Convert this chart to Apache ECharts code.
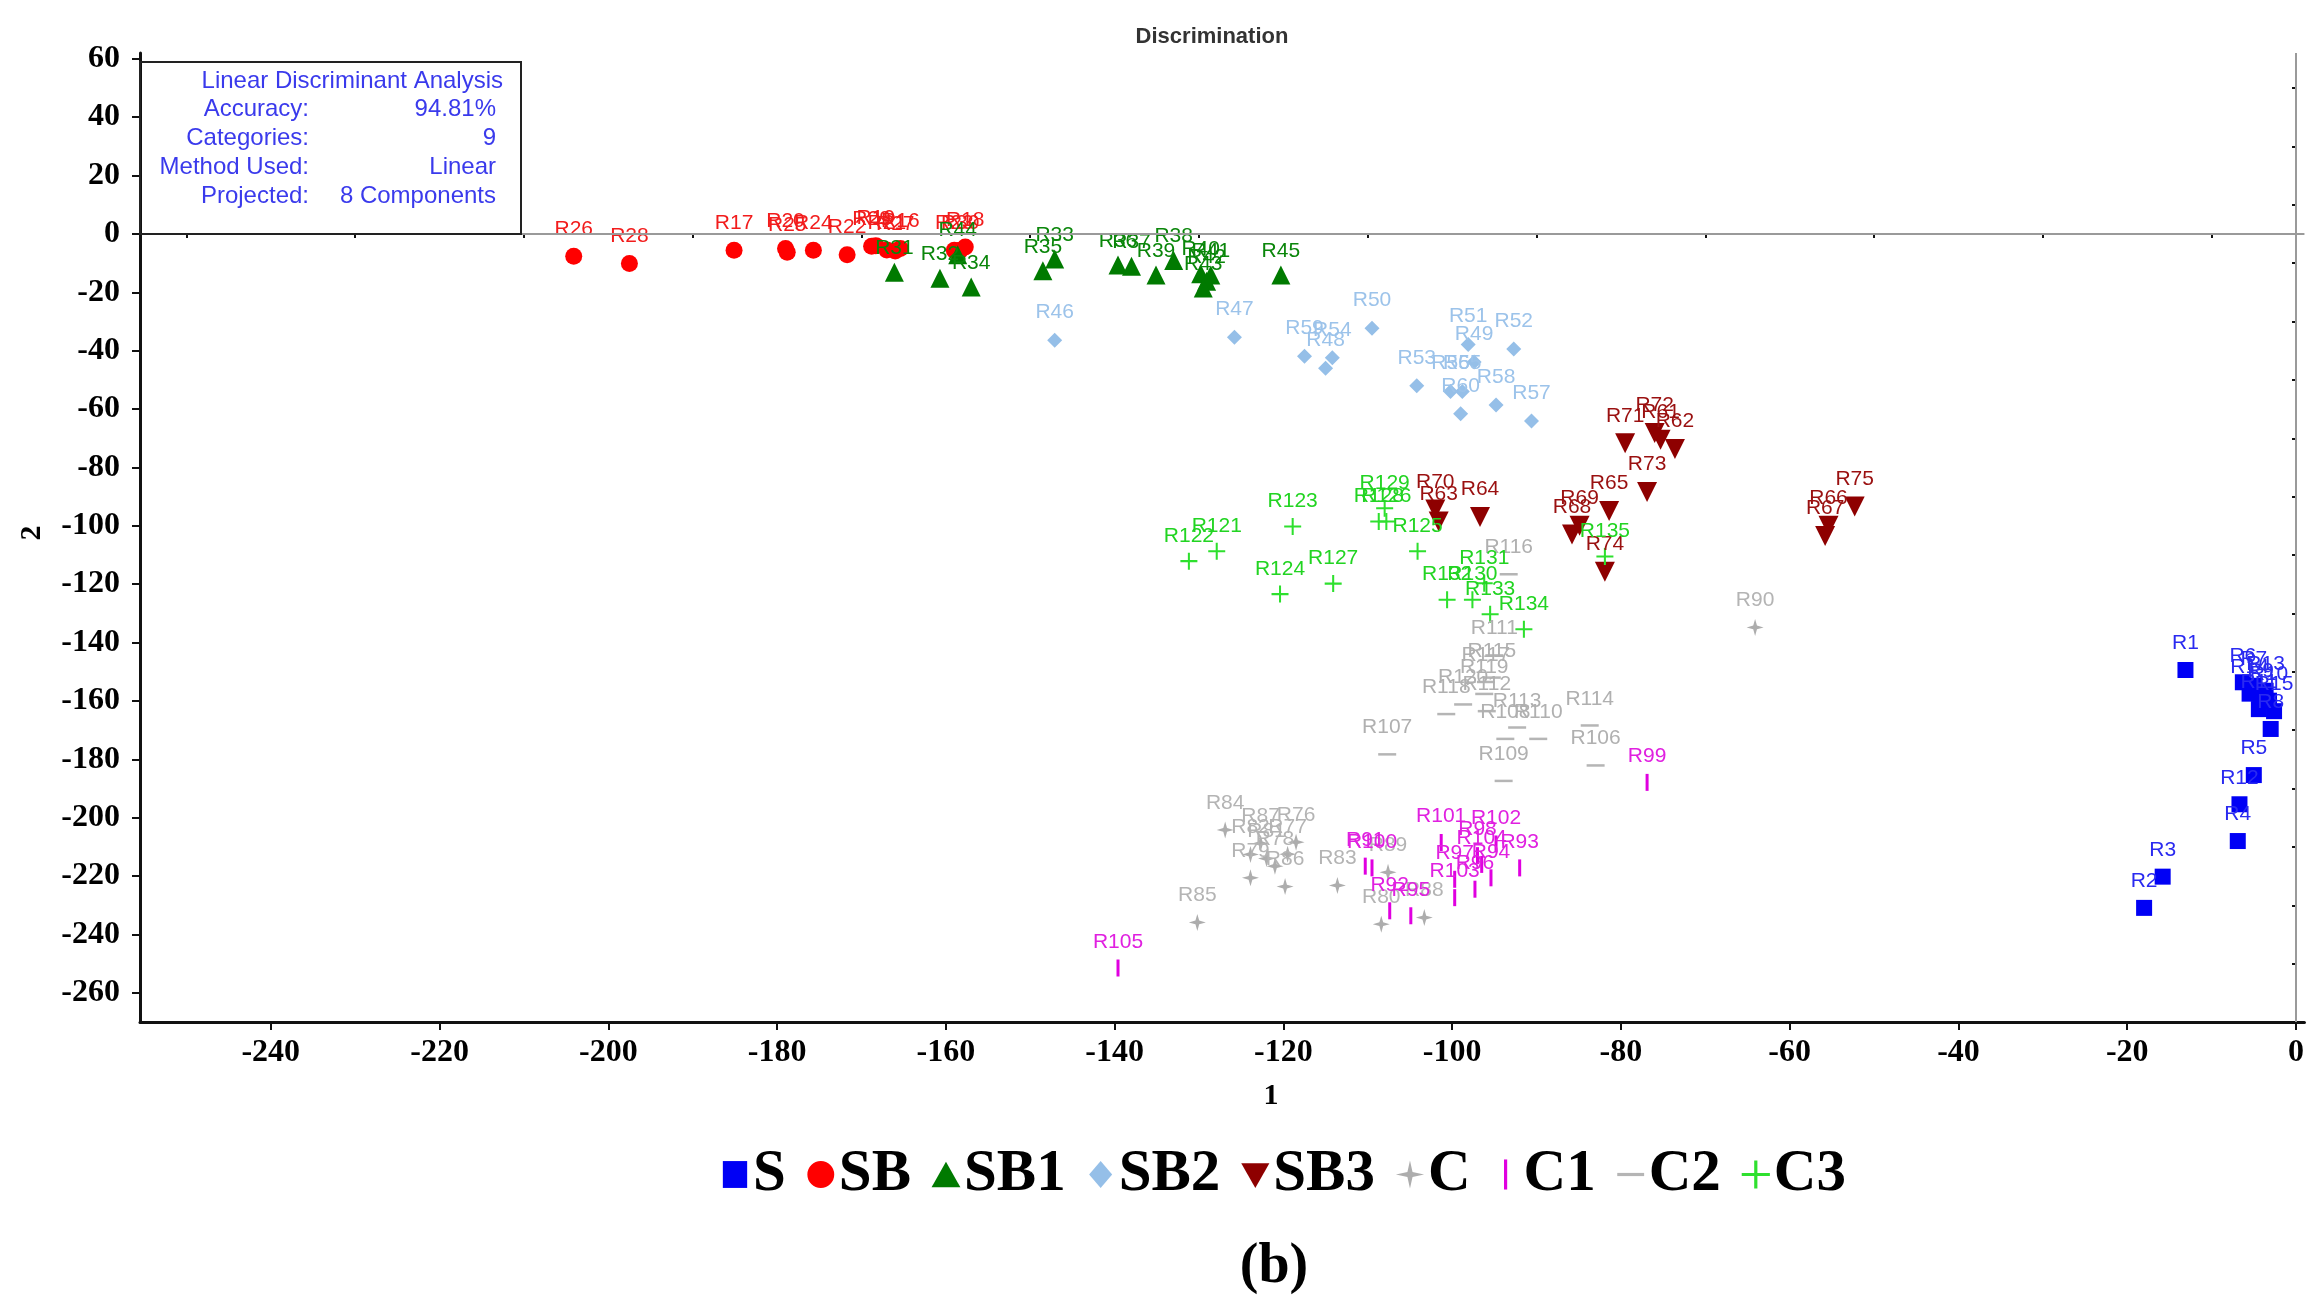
<!DOCTYPE html>
<html>
<head>
<meta charset="utf-8">
<script src="https://cdn.jsdelivr.net/npm/echarts@6/dist/echarts.min.js"></script>
<style>
  html, body { margin: 0; padding: 0; background: #fff; }
  #main { width: 2307px; height: 1295px; }
</style>
</head>
<body>
<div id="main"></div>
<script>
// ---- LDA scores (function 1, function 2) per sample group ----
const sNames = ['R1','R2','R3','R4','R5','R6','R7','R8','R9','R10','R11','R12','R13','R14','R15'];
const sPts = [[-13.1,-149.4],[-18.0,-230.9],[-15.8,-220.2],[-6.9,-208.0],[-5.0,-185.4],[-6.3,-153.6],[-5.0,-154.8],[-3.0,-169.6],[-4.2,-158.8],[-3.2,-159.9],[-4.4,-162.8],[-6.7,-195.4],[-3.6,-156.5],[-5.5,-157.5],[-2.6,-163.5]];

const sbNames = ['R16','R17','R18','R19','R20','R21','R22','R23','R24','R25','R26','R27','R28','R29','R30'];
const sbPts = [[-165.4,-5.0],[-185.1,-5.6],[-157.7,-4.5],[-168.3,-4.0],[-179.0,-5.0],[-167.0,-5.5],[-171.7,-7.1],[-159.0,-5.6],[-175.7,-5.6],[-178.8,-6.3],[-204.1,-7.6],[-166.0,-5.8],[-197.5,-10.1],[-168.8,-4.2],[-158.3,-5.6]];

const sb1Names = ['R31','R32','R33','R34','R35','R36','R37','R38','R39','R40','R41','R42','R43','R44','R45'];
const sb1Pts = [[-166.1,-13.1],[-160.7,-15.2],[-147.1,-8.6],[-157.0,-18.2],[-148.5,-12.6],[-139.6,-10.6],[-138.0,-11.1],[-133.0,-9.1],[-135.1,-14.1],[-129.8,-13.6],[-128.6,-14.1],[-129.1,-16.2],[-129.5,-18.5],[-158.6,-7.1],[-120.3,-14.1]];

const sb2Names = ['R46','R47','R48','R49','R50','R51','R52','R53','R54','R55','R56','R57','R58','R59','R60'];
const sb2Pts = [[-147.1,-36.4],[-125.8,-35.4],[-115.0,-46.0],[-97.4,-43.9],[-109.5,-32.3],[-98.1,-37.9],[-92.7,-39.4],[-104.2,-52.0],[-114.2,-42.4],[-98.8,-54.0],[-100.2,-54.0],[-90.6,-64.1],[-94.8,-58.6],[-117.5,-41.9],[-99.0,-61.6]];

const sb3Names = ['R61','R62','R63','R64','R65','R66','R67','R68','R69','R70','R71','R72','R73','R74','R75'];
const sb3Pts = [[-75.3,-70.5],[-73.6,-73.7],[-101.6,-98.5],[-96.7,-97.0],[-81.4,-94.9],[-55.4,-100.0],[-55.8,-103.5],[-85.8,-103.0],[-84.9,-100.0],[-102.0,-94.4],[-79.5,-71.7],[-76.0,-68.2],[-76.9,-88.4],[-81.9,-115.7],[-52.3,-93.4]];

const cNames = ['R76','R77','R78','R79','R80','R81','R82','R83','R84','R85','R86','R87','R88','R89','R90'];
const cPts = [[-118.5,-208.4],[-119.5,-212.5],[-121.0,-216.6],[-123.9,-220.6],[-108.4,-236.5],[-122.0,-214.0],[-123.9,-212.6],[-113.6,-223.2],[-126.9,-204.2],[-130.2,-235.9],[-119.8,-223.6],[-122.7,-208.8],[-103.3,-234.2],[-107.6,-218.7],[-64.1,-134.8]];

const c1Names = ['R91','R92','R93','R94','R95','R96','R97','R98','R99','R100','R101','R102','R103','R104','R105'];
const c1Pts = [[-110.3,-216.6],[-107.4,-231.9],[-92.0,-217.2],[-95.4,-220.6],[-104.9,-233.6],[-97.3,-224.5],[-99.7,-221.1],[-97.0,-213.0],[-76.9,-187.9],[-109.5,-217.2],[-101.3,-208.5],[-94.8,-209.0],[-99.7,-227.4],[-96.5,-216.0],[-139.6,-251.5]];

const c2Names = ['R106','R107','R108','R109','R110','R111','R112','R113','R114','R115','R116','R117','R118','R119','R120'];
const c2Pts = [[-83.0,-182.1],[-107.7,-178.3],[-93.7,-173.0],[-93.9,-187.4],[-89.8,-173.0],[-95.0,-144.4],[-95.9,-163.5],[-92.3,-169.1],[-83.7,-168.4],[-95.3,-152.0],[-93.3,-116.6],[-96.0,-153.5],[-100.7,-164.5],[-96.2,-157.6],[-98.7,-161.2]];

const c3Names = ['R121','R122','R123','R124','R125','R126','R127','R128','R129','R130','R131','R132','R133','R134','R135'];
const c3Pts = [[-127.9,-108.7],[-131.2,-112.1],[-118.9,-100.2],[-120.4,-123.4],[-104.1,-108.7],[-107.8,-98.5],[-114.1,-119.8],[-108.7,-98.5],[-108.0,-94.0],[-97.6,-125.3],[-96.2,-119.7],[-100.6,-125.3],[-95.5,-130.3],[-91.5,-135.4],[-81.9,-110.5]];

// ---- axis ticks ----
const xTicks = [-240,-220,-200,-180,-160,-140,-120,-100,-80,-60,-40,-20,0];
const xMinorTicks = [-250,-230,-210,-190,-170,-150,-130,-110,-90,-70,-50,-30,-10];
const yTicks = [-260,-240,-220,-200,-180,-160,-140,-120,-100,-80,-60,-40,-20,0,20,40,60];
const yMinorTicks = [-250,-230,-210,-190,-170,-150,-130,-110,-90,-70,-50,-30,-10,10,30,50];

// ---- summary box text ----
const infoTitle = 'Linear Discriminant Analysis';
const infoKeys = ['Accuracy:', 'Categories:', 'Method Used:', 'Projected:'];
const infoVals = ['94.81%', '9', 'Linear', '8 Components'];

// ---- marker shapes ----
const SYM = {
  star4: 'path://M5,0 L6.1,3.9 L10,5 L6.1,6.1 L5,10 L3.9,6.1 L0,5 L3.9,3.9 Z',
  plus: 'path://M4.4,0 L5.6,0 L5.6,4.4 L10,4.4 L10,5.6 L5.6,5.6 L5.6,10 L4.4,10 L4.4,5.6 L0,5.6 L0,4.4 L4.4,4.4 Z',
  down: 'path://M0,0 L10,0 L5,9 Z'
};
const ICON = {
  S: 'path://M0,0 M10,10 M1.2,0.8 L8.8,0.8 L8.8,9.2 L1.2,9.2 Z',
  SB: 'path://M0,0 M10,10 M5,0.8 A4.2,4.2 0 1 1 4.99,0.8 Z',
  SB1: 'path://M0,0 M10,10 M5,1 L9.5,9 L0.5,9 Z',
  SB2: 'path://M0,0 M10,10 M5,0.8 L8.6,5 L5,9.2 L1.4,5 Z',
  SB3: 'path://M0,0 M10,10 M0.6,1.5 L9.4,1.5 L5,9.2 Z',
  C: 'path://M0,0 M10,10 M5,0.6 L5.8,4.2 L9.4,5 L5.8,5.8 L5,9.4 L4.2,5.8 L0.6,5 L4.2,4.2 Z',
  C1: 'path://M0,0 M10,10 M4.5,0.3 L5.5,0.3 L5.5,9.7 L4.5,9.7 Z',
  C2: 'path://M0,0 M10,10 M0.8,4.5 L9.2,4.5 L9.2,5.5 L0.8,5.5 Z',
  C3: 'path://M0,0 M10,10 M4.5,0.6 L5.5,0.6 L5.5,4.5 L9.4,4.5 L9.4,5.5 L5.5,5.5 L5.5,9.4 L4.5,9.4 L4.5,5.5 L0.6,5.5 L0.6,4.5 L4.5,4.5 Z'
};

const SANS = '"Liberation Sans", Arial, Helvetica, sans-serif';
const SERIF = '"Liberation Serif", "Times New Roman", Times, serif';

function group(name, names, pts, color, symbol, size, labelColor, dist, extra) {
  return Object.assign({
    name: name,
    type: 'scatter',
    symbol: symbol,
    symbolSize: size,
    itemStyle: { color: color, opacity: 1 },
    label: {
      show: true,
      position: 'top',
      distance: dist,
      formatter: '{b}',
      fontFamily: SANS,
      fontSize: 21,
      color: labelColor
    },
    labelLayout: { hideOverlap: false },
    emphasis: { disabled: true },
    data: names.map((n, i) => ({ name: n, value: pts[i] }))
  }, extra || {});
}

const series = [
  group('S', sNames, sPts, '#0000F5', 'rect', 16, '#2a2af0', 8, {
    markLine: {
      silent: true,
      symbol: 'none',
      label: { show: false },
      lineStyle: { color: '#9a9a9a', width: 2, type: 'solid' },
      data: [{ yAxis: 0 }, { xAxis: 0 }],
      animation: false
    }
  }),
  group('SB', sbNames, sbPts, '#FF0000', 'circle', 17, '#F21C1C', 8),
  group('SB1', sb1Names, sb1Pts, '#007A00', 'triangle', 19, '#0A860A', 4),
  group('SB2', sb2Names, sb2Pts, '#95BFE8', 'diamond', 15, '#9CC3EA', 10),
  group('SB3', sb3Names, sb3Pts, '#8E0000', SYM.down, 20, '#9A1010', 7),
  group('C', cNames, cPts, '#ADADAD', SYM.star4, 17, '#B4B4B4', 8),
  group('C1', c1Names, c1Pts, '#E000E0', 'rect', [3, 17], '#E020E0', 7),
  group('C2', c2Names, c2Pts, '#B5B5B5', 'rect', [18, 2.5], '#B0B0B0', 15),
  group('C3', c3Names, c3Pts, '#2EE02E', SYM.plus, 17, '#22D422', 6)
];

const legendNames = ['S','SB','SB1','SB2','SB3','C','C1','C2','C3'];

const axisLabelStyle = {
  fontFamily: SERIF,
  fontWeight: 'bold',
  fontSize: 32,
  color: '#000'
};

const option = {
  animation: false,
  backgroundColor: '#fff',
  grid: { left: 140, right: 2, top: 53, height: 969, containLabel: false },
  xAxis: [
    {
      type: 'value', min: -255.5, max: 1, position: 'bottom',
      axisLine: { show: true, onZero: false, lineStyle: { color: '#111', width: 3 } },
      axisTick: { show: true, inside: false, length: 8, lineStyle: { color: '#111', width: 2 }, customValues: xTicks },
      axisLabel: Object.assign({ customValues: xTicks, margin: 15 }, axisLabelStyle),
      splitLine: { show: false }
    },
    {
      type: 'value', min: -255.5, max: 1, position: 'bottom',
      axisLine: { show: false },
      axisTick: { show: true, inside: false, length: 4, lineStyle: { color: '#111', width: 2 }, customValues: xMinorTicks },
      axisLabel: { show: false },
      splitLine: { show: false }
    }
  ],
  yAxis: [
    {
      type: 'value', min: -270, max: 62, position: 'left',
      axisLine: { show: true, onZero: false, lineStyle: { color: '#111', width: 3 } },
      axisTick: { show: true, inside: false, length: 8, lineStyle: { color: '#111', width: 2 }, customValues: yTicks },
      axisLabel: Object.assign({ customValues: yTicks, margin: 20 }, axisLabelStyle),
      splitLine: { show: false }
    },
    {
      type: 'value', min: -270, max: 62, position: 'left',
      axisLine: { show: false },
      axisTick: { show: true, inside: false, length: 4, lineStyle: { color: '#111', width: 2 }, customValues: yMinorTicks },
      axisLabel: { show: false },
      splitLine: { show: false }
    }
  ],
  legend: {
    data: legendNames.map(n => ({ name: n, icon: ICON[n] })),
    left: 714,
    top: 1140,
    orient: 'horizontal',
    itemWidth: 32,
    itemHeight: 32,
    itemGap: 19,
    selectedMode: false,
    textStyle: { fontFamily: SERIF, fontWeight: 'bold', fontSize: 59, color: '#000', padding: [0, 0, 0, -3] }
  },
  graphic: [
    { type: 'text', style: { x: 1212, y: 37, text: 'Discrimination', textAlign: 'center', textVerticalAlign: 'middle', font: 'bold 22px ' + SANS, fill: '#333' } },
    { type: 'rect', shape: { x: 140, y: 62, width: 381, height: 172 }, style: { fill: 'rgba(255,255,255,0)', stroke: '#222', lineWidth: 2 }, z: 10 },
    { type: 'text', style: { x: 503, y: 81, text: infoTitle, textAlign: 'right', textVerticalAlign: 'middle', font: '24px ' + SANS, fill: '#3A3AEC' }, z: 11 },
    { type: 'group', children: infoKeys.map((k, i) => ({ type: 'text', style: { x: 309, y: 109 + i * 29, text: k, textAlign: 'right', textVerticalAlign: 'middle', font: '24px ' + SANS, fill: '#3A3AEC' } })), z: 11 },
    { type: 'group', children: infoVals.map((v, i) => ({ type: 'text', style: { x: 496, y: 109 + i * 29, text: v, textAlign: 'right', textVerticalAlign: 'middle', font: '24px ' + SANS, fill: '#3A3AEC' } })), z: 11 },
    { type: 'text', style: { x: 1271, y: 1096, text: '1', textAlign: 'center', textVerticalAlign: 'middle', font: 'bold 30px ' + SERIF, fill: '#000' } },
    { type: 'text', x: 32, y: 533, rotation: Math.PI / 2, style: { x: 0, y: 0, text: '2', textAlign: 'center', textVerticalAlign: 'middle', font: 'bold 30px ' + SERIF, fill: '#000' } },
    { type: 'text', style: { x: 1274, y: 1268, text: '(b)', textAlign: 'center', textVerticalAlign: 'middle', font: 'bold 56px ' + SERIF, fill: '#000' } }
  ],
  series: series
};

const chart = echarts.init(document.getElementById('main'), null, { renderer: 'canvas' });
chart.setOption(option);
</script>
</body>
</html>
